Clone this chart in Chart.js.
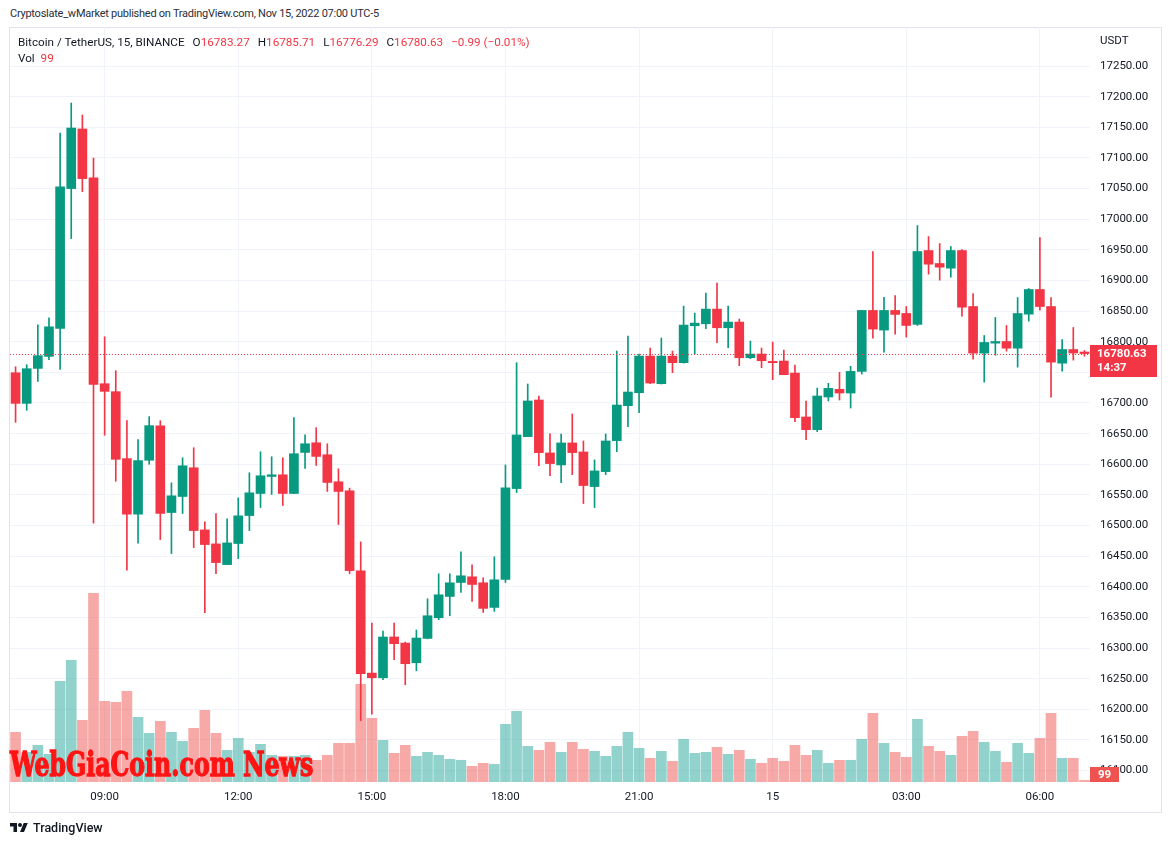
<!DOCTYPE html>
<html lang="en">
<head>
  <meta charset="UTF-8" />
  <title>Bitcoin / TetherUS, 15, BINANCE</title>
  <script src="https://cdn.jsdelivr.net/npm/chart.js"></script>
  <style>
    body { margin: 0; background: #fff; font-family: Roboto, "Noto Sans", sans-serif; color: #131722; }
    #page { position: relative; width: 1171px; height: 845px; overflow: hidden; }
    #published { position: absolute; left: 10px; top: 7px; font-size: 11px; letter-spacing: -0.25px; color: #2a2e39; white-space: nowrap; }
    #frame { position: absolute; left: 9px; top: 27px; width: 1153px; height: 786px; border: 1px solid #e0e3eb; box-sizing: border-box; }
    #chart { position: absolute; left: 0; top: 0; }
    #legend { position: absolute; left: 18px; top: 34px; font-size: 11.7px; line-height: 16px; white-space: nowrap; }
    #legend .sp { margin-left: 8px; }
    .red { color: #f23645; }
    #usdt { position: absolute; left: 1100px; top: 33px; font-size: 11.5px; }
    #watermark { position: absolute; left: 10px; top: 744px; font-family: "DejaVu Serif Condensed", "DejaVu Serif", serif;
                 font-weight: bold; font-size: 34px; color: #ff1414; -webkit-text-stroke: 1.3px #ff1414;
                 white-space: nowrap; transform-origin: left top; }
    #brand { position: absolute; left: 10px; top: 820px; font-size: 12.5px; font-weight: 500; display: flex; align-items: center; gap: 5px; }
  </style>
</head>
<body>
  <div id="page">
    <div id="published">Cryptoslate_wMarket published on TradingView.com, Nov 15, 2022 07:00 UTC-5</div>
    <div id="frame"></div>
    <canvas id="chart" width="1171" height="845"></canvas>
    <div id="legend"></div>
    <div id="usdt">USDT</div>
    <div id="watermark"><span id="wm">WebGiaCoin.com News</span></div>
    <div id="brand">
      <svg width="18" height="14" viewBox="0 0 36 28"><path d="M14 22H7V11H0V4h14v18zM28 22h-8l7.5-18h8L28 22z" fill="#131722"/><circle cx="20" cy="8" r="4" fill="#131722"/></svg>
      <span>TradingView</span>
    </div>
  </div>

  <script>
    // 15-minute candles, Nov 14 07:00 -> Nov 15 07:00 (UTC-5)
    const categories = [
      '07:00','07:15','07:30','07:45','08:00','08:15','08:30','08:45',
      '09:00','09:15','09:30','09:45','10:00','10:15','10:30','10:45',
      '11:00','11:15','11:30','11:45','12:00','12:15','12:30','12:45',
      '13:00','13:15','13:30','13:45','14:00','14:15','14:30','14:45',
      '15:00','15:15','15:30','15:45','16:00','16:15','16:30','16:45',
      '17:00','17:15','17:30','17:45','18:00','18:15','18:30','18:45',
      '19:00','19:15','19:30','19:45','20:00','20:15','20:30','20:45',
      '21:00','21:15','21:30','21:45','22:00','22:15','22:30','22:45',
      '23:00','23:15','23:30','23:45','00:00','00:15','00:30','00:45',
      '01:00','01:15','01:30','01:45','02:00','02:15','02:30','02:45',
      '03:00','03:15','03:30','03:45','04:00','04:15','04:30','04:45',
      '05:00','05:15','05:30','05:45','06:00','06:15','06:30','06:45',
      '07:00'
    ];
    const tickCategories = ['09:00', '12:00', '15:00', '18:00', '21:00', '00:00', '03:00', '06:00'];
    const tickLabels     = ['09:00', '12:00', '15:00', '18:00', '21:00', '15',    '03:00', '06:00'];

    const opens = [
      16749.4, 16699.4, 16756.5, 16776.1, 16821.7, 17050.0, 17147.3, 17067.4, 16731.5, 16718.5,
      16609.2, 16518.5, 16606.5, 16662.9, 16521.2, 16547.4, 16594.3, 16492.9, 16470.0, 16436.2,
      16470.6, 16516.3, 16552.3, 16580.1, 16582.8, 16552.3, 16619.3, 16635.1, 16615.5, 16571.4,
      16556.7, 16425.9, 16259.1, 16251.5, 16318.0, 16308.1, 16276.0, 16315.7, 16349.4, 16384.2,
      16407.0, 16416.3, 16406.5, 16366.3, 16411.9, 16560.3, 16645.1, 16704.9, 16618.5, 16598.9,
      16634.8, 16620.1, 16563.6, 16588.0, 16638.6, 16695.6, 16716.8, 16776.6, 16731.5, 16776.6,
      16765.8, 16826.1, 16829.3, 16853.3, 16822.8, 16832.1, 16773.9, 16779.9, 16767.9, 16768.5,
      16748.9, 16677.2, 16656.5, 16709.8, 16722.3, 16716.3, 16751.6, 16851.1, 16819.0, 16851.1,
      16846.2, 16828.3, 16948.9, 16927.7, 16920.1, 16948.9, 16857.5, 16781.4, 16797.7, 16800.4,
      16789.5, 16845.0, 16885.3, 16857.5, 16765.0, 16787.3, 16783.27
    ];
    const highs = [
      16759.2, 16762.5, 16827.7, 16839.1, 17140.8, 17189.7, 17170.1, 17100.0, 16808.1, 16752.7,
      16671.2, 16640.2, 16677.7, 16671.1, 16569.7, 16610.6, 16627.0, 16506.0, 16519.6, 16510.9,
      16545.2, 16586.1, 16620.4, 16612.3, 16610.6, 16676.0, 16648.2, 16659.7, 16633.5, 16592.6,
      16561.0, 16473.3, 16340.8, 16327.8, 16340.8, 16309.8, 16329.4, 16380.4, 16421.2, 16421.2,
      16457.0, 16435.9, 16414.7, 16448.9, 16598.9, 16765.8, 16731.0, 16711.4, 16649.5, 16649.4,
      16682.1, 16638.0, 16607.1, 16649.4, 16784.8, 16809.2, 16779.9, 16789.7, 16806.0, 16784.8,
      16858.2, 16846.7, 16879.3, 16895.7, 16858.2, 16837.0, 16801.1, 16789.7, 16799.5, 16786.4,
      16762.0, 16703.3, 16724.4, 16732.1, 16750.0, 16759.8, 16851.1, 16947.3, 16872.3, 16875.5,
      16857.6, 16989.7, 16971.7, 16960.3, 16955.4, 16950.5, 16878.7, 16810.2, 16839.6, 16826.5,
      16872.2, 16886.9, 16970.1, 16872.2, 16803.7, 16823.2, 16785.71
    ];
    const lows = [
      16668.5, 16688.0, 16735.3, 16770.6, 16754.9, 16968.5, 17045.1, 16503.8, 16647.3, 16572.3,
      16427.1, 16471.2, 16600.0, 16477.1, 16454.2, 16519.6, 16464.0, 16357.7, 16421.5, 16436.0,
      16446.0, 16491.8, 16529.4, 16550.7, 16532.7, 16552.0, 16593.2, 16598.1, 16555.6, 16501.6,
      16421.5, 16181.4, 16192.1, 16248.2, 16280.9, 16240.0, 16262.9, 16315.0, 16346.2, 16352.7,
      16390.7, 16376.1, 16358.1, 16359.8, 16407.0, 16553.8, 16645.0, 16597.8, 16581.5, 16570.1,
      16583.1, 16535.9, 16529.3, 16583.1, 16620.6, 16661.4, 16684.2, 16731.5, 16731.0, 16749.5,
      16765.0, 16780.4, 16821.2, 16798.4, 16790.2, 16760.9, 16772.3, 16757.6, 16738.0, 16746.0,
      16669.6, 16640.2, 16653.3, 16703.3, 16704.9, 16691.8, 16747.3, 16806.0, 16783.1, 16812.5,
      16807.6, 16826.6, 16910.3, 16900.5, 16905.4, 16841.7, 16771.6, 16734.0, 16778.1, 16784.6,
      16758.5, 16833.6, 16851.5, 16709.6, 16752.0, 16770.0, 16776.29
    ];
    const closes = [
      16699.4, 16756.0, 16777.2, 16824.4, 17052.7, 17148.9, 17066.3, 16730.4, 16719.0, 16608.1,
      16518.5, 16606.0, 16663.0, 16519.6, 16548.5, 16597.5, 16491.8, 16468.9, 16439.5, 16471.6,
      16515.8, 16553.4, 16581.2, 16582.8, 16552.3, 16617.2, 16633.5, 16612.8, 16570.3, 16555.6,
      16426.4, 16258.0, 16251.5, 16318.0, 16307.1, 16274.4, 16316.3, 16352.7, 16386.9, 16406.5,
      16417.9, 16403.8, 16364.7, 16411.4, 16561.4, 16647.8, 16703.3, 16619.0, 16601.1, 16634.8,
      16619.0, 16565.2, 16589.1, 16638.0, 16696.7, 16717.9, 16776.6, 16732.6, 16776.6, 16765.8,
      16827.2, 16830.4, 16853.3, 16822.8, 16832.1, 16773.9, 16779.9, 16769.0, 16765.8, 16746.2,
      16676.1, 16656.5, 16711.4, 16723.9, 16716.3, 16751.6, 16851.1, 16820.6, 16851.1, 16844.6,
      16826.6, 16947.3, 16926.6, 16921.7, 16948.9, 16856.4, 16781.4, 16798.8, 16800.4, 16789.5,
      16846.1, 16885.3, 16857.5, 16766.7, 16787.3, 16781.62, 16780.63
    ];
    const volumes = [
      2883, 1723, 2129, 1607, 5841, 7059, 3579, 10945, 4681, 4623,
      5261, 3753, 2825, 3521, 2883, 2361, 3115, 4159, 2825, 1839,
      2535, 1723, 2187, 1549, 1491, 1491, 1549, 1259, 1549, 2245,
      2245, 5667, 3695, 2419, 1665, 2129, 1491, 1723, 1549, 1317,
      1259, 911, 1085, 1027, 3347, 4101, 2071, 1839, 2303, 1723,
      2303, 1897, 1781, 1491, 2071, 2883, 1955, 1375, 1781, 1201,
      2477, 1665, 1723, 2013, 1607, 1839, 1317, 1085, 1375, 1201,
      2129, 1549, 1839, 1085, 1259, 1259, 2477, 3985, 2245, 1723,
      1433, 3637, 2071, 1781, 1549, 2651, 2941, 2303, 1781, 1143,
      2245, 1665, 2535, 3985, 1375, 1375, 99
    ];

    const UP = '#089981', DOWN = '#f23645';
    const UP_VOL = 'rgba(38, 166, 154, 0.5)', DOWN_VOL = 'rgba(239, 83, 80, 0.5)';
    const GRID = '#f0f3fa';
    const PRICE_MIN = 16081.3, PRICE_MAX = 17313.8;
    const TICK_MAX = 17250;   // top label slot is taken by "USDT"
    const VOL_MAX = 43800;

    const isUp = opens.map((o, i) => closes[i] >= o);
    const last = opens.length - 1;

    // legend text
    const fmt = v => v.toFixed(2);
    const change = closes[last] - closes[last - 1];
    const pct = change / closes[last - 1] * 100;
    const sign = v => (v < 0 ? '\u2212' : '+') + Math.abs(v).toFixed(2);
    document.getElementById('legend').innerHTML =
      '<div>Bitcoin / TetherUS, 15, BINANCE' +
      '<span class="sp">O</span><span class="red">' + fmt(opens[last]) + '</span>' +
      '<span class="sp">H</span><span class="red">' + fmt(highs[last]) + '</span>' +
      '<span class="sp">L</span><span class="red">' + fmt(lows[last]) + '</span>' +
      '<span class="sp">C</span><span class="red">' + fmt(closes[last]) + '</span>' +
      '<span class="sp red">' + sign(change) + ' (' + sign(pct) + '%)</span></div>' +
      '<div>Vol <span class="red" style="margin-left:3px">' + volumes[last] + '</span></div>';

    // squeeze the watermark to its width
    const wm = document.getElementById('wm');
    document.getElementById('watermark').style.transform = 'scaleX(' + (303 / wm.offsetWidth) + ')';

    const overlay = {
      id: 'overlay',
      afterDatasetsDraw(chart) {
        const { ctx, chartArea: a, scales: { y } } = chart;
        const py = Math.round(y.getPixelForValue(closes[last])) + 0.5;
        ctx.save();
        ctx.strokeStyle = DOWN;
        ctx.lineWidth = 1;
        ctx.setLineDash([1, 2]);
        ctx.beginPath();
        ctx.moveTo(a.left, py);
        ctx.lineTo(a.right, py);
        ctx.stroke();
        ctx.restore();
      },
      afterDraw(chart) {
        const { ctx, chartArea: a, scales: { y, yVol } } = chart;
        const py = y.getPixelForValue(closes[last]);
        ctx.save();
        // last price label
        ctx.fillStyle = isUp[last] ? UP : DOWN;
        ctx.fillRect(a.right, Math.round(py) - 9, 67, 32);
        ctx.fillStyle = '#fff';
        ctx.font = 'bold 11.5px Roboto, sans-serif';
        ctx.textBaseline = 'middle';
        ctx.fillText(fmt(closes[last]), a.right + 7, Math.round(py));
        ctx.fillText('14:37', a.right + 7, Math.round(py) + 14);
        // volume label
        const vy = Math.min(yVol.getPixelForValue(volumes[last]), a.bottom - 8);
        ctx.fillStyle = isUp[last] ? '#26a69a' : '#ef5350';
        ctx.fillRect(a.right, Math.round(vy) - 7, 29, 15);
        ctx.fillStyle = '#fff';
        ctx.fillText(String(volumes[last]), a.right + 8, Math.round(vy) + 1);
        ctx.restore();
      }
    };

    const ctx = document.getElementById('chart').getContext('2d');
    new Chart(ctx, {
      type: 'bar',
      data: {
        labels: categories,
        datasets: [
          {
            label: 'Body',
            data: opens.map((o, i) => [o, closes[i]]),
            backgroundColor: isUp.map(u => u ? UP : DOWN),
            barThickness: 9,
            minBarLength: 1,
            grouped: false,
            yAxisID: 'y',
            order: 1
          },
          {
            label: 'Wick',
            data: lows.map((l, i) => [l, highs[i]]),
            backgroundColor: isUp.map(u => u ? UP : DOWN),
            barThickness: 1,
            grouped: false,
            yAxisID: 'y',
            order: 2
          },
          {
            label: 'Vol',
            data: volumes,
            backgroundColor: isUp.map(u => u ? UP_VOL : DOWN_VOL),
            barThickness: 10,
            grouped: false,
            yAxisID: 'yVol',
            order: 3
          }
        ]
      },
      options: {
        responsive: false,
        animation: false,
        devicePixelRatio: 1,
        layout: { padding: { left: 10, top: 27, right: 10, bottom: 33 } },
        plugins: { legend: { display: false }, tooltip: { enabled: false } },
        scales: {
          x: {
            grid: {
              offset: false,
              drawTicks: false,
              color: c => tickCategories.includes(categories[c.index]) ? GRID : 'rgba(0,0,0,0)'
            },
            border: { display: false },
            ticks: {
              autoSkip: false,
              maxRotation: 0,
              padding: 8,
              color: '#131722',
              font: { family: 'Roboto', size: 11.5 },
              callback: (v, i) => {
                const k = tickCategories.indexOf(categories[i]);
                return k >= 0 ? tickLabels[k] : '';
              }
            },
            afterFit: s => { s.height = 30; }
          },
          y: {
            position: 'right',
            min: PRICE_MIN,
            max: PRICE_MAX,
            grid: { color: GRID, drawTicks: false },
            border: { display: false },
            afterBuildTicks: s => { s.ticks = s.ticks.filter(t => t.value % 50 === 0 && t.value <= TICK_MAX); },
            ticks: {
              stepSize: 50,
              includeBounds: false,
              autoSkip: false,
              padding: 10,
              color: '#131722',
              font: { family: 'Roboto', size: 11.5 },
              callback: v => v.toFixed(2)
            },
            afterFit: s => { s.width = 71; }
          },
          yVol: {
            display: false,
            min: 0,
            max: VOL_MAX
          }
        }
      },
      plugins: [overlay]
    });
  </script>
</body>
</html>
